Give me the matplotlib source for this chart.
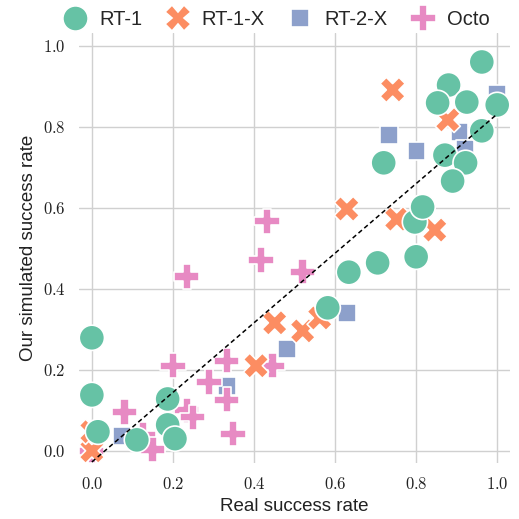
import numpy as np
import pandas as pd
import matplotlib
matplotlib.use("Agg")
import matplotlib.pyplot as plt
import seaborn as sns
from matplotlib.ticker import FuncFormatter

# values (real, simulated)
rt1_real = [0.0, 0.0, 0.015, 0.111, 0.187, 0.187, 0.205, 0.582, 0.634, 0.705, 0.72, 0.80,
            0.797, 0.816, 0.871, 0.922, 0.89, 0.962, 0.88, 0.853, 0.925, 1.0, 0.962]
rt1_sim = [0.279, 0.138, 0.047, 0.027, 0.128, 0.064, 0.03, 0.353, 0.441, 0.464, 0.711, 0.479,
           0.565, 0.602, 0.73, 0.711, 0.666, 0.96, 0.903, 0.859, 0.861, 0.854, 0.79]
rt1x_real = [0.0, 0.0, 0.405, 0.451, 0.52, 0.562, 0.629, 0.752, 0.742, 0.878, 0.846]
rt1x_sim = [0.0, 0.047, 0.21, 0.316, 0.296, 0.328, 0.597, 0.572, 0.891, 0.817, 0.545]
rt2x_real = [0.074, 0.333, 0.481, 0.629, 0.733, 0.801, 0.907, 0.92, 1.0]
rt2x_sim = [0.037, 0.16, 0.252, 0.34, 0.78, 0.74, 0.787, 0.745, 0.88]
octo_real = [0.0, 0.081, 0.126, 0.15, 0.2, 0.234, 0.249, 0.234, 0.289, 0.333, 0.333, 0.348,
             0.417, 0.432, 0.446, 0.52]
octo_sim = [0.0, 0.096, 0.039, 0.003, 0.21, 0.1, 0.083, 0.43, 0.17, 0.222, 0.126, 0.042,
            0.471, 0.567, 0.21, 0.442]

policies = ["RT-1", "RT-1-X", "RT-2-X", "Octo"]
ticks = [0.0, 0.2, 0.4, 0.6, 0.8, 1.0]

frames = {
    "RT-1": (rt1_real, rt1_sim),
    "RT-1-X": (rt1x_real, rt1x_sim),
    "RT-2-X": (rt2x_real, rt2x_sim),
    "Octo": (octo_real, octo_sim),
}
rows = []
for name, (xs, ys) in frames.items():
    for x, y in zip(xs, ys):
        rows.append({"real": x, "sim": y, "policy": name})
df = pd.DataFrame(rows)
# draw order roughly as in the reference
draw_order = ["RT-2-X", "Octo", "RT-1-X", "RT-1"]
df["rank"] = df["policy"].map({p: i for i, p in enumerate(draw_order)})
df = df.sort_values("rank", kind="stable")

sns.set_theme(style="whitegrid", palette="Set2")
plt.rcParams["font.family"] = ["Liberation Sans", "DejaVu Sans"]
plt.rcParams["mathtext.fontset"] = "cm"

fig = plt.figure(figsize=(5.19, 5.19), dpi=100)
ax = fig.add_axes([0.152, 0.108, 0.831, 0.828])

sns.scatterplot(data=df, x="real", y="sim", hue="policy", style="policy",
                hue_order=policies, style_order=policies, s=330, ax=ax,
                edgecolor="white", linewidth=1.2)

# linear fit of all points, drawn over [0, 1]
slope, intercept = np.polyfit(df["real"], df["sim"], 1)
xs = np.array([0.0, 1.0])
ax.plot(xs, intercept + slope * xs, color="black", linestyle=(0, (3, 2)), linewidth=1.1, zorder=5)

ax.set_xlim(-0.032, 1.032)
ax.set_ylim(-0.03, 1.031)
ax.set_xticks(ticks)
ax.set_yticks(ticks)
fmt = FuncFormatter(lambda v, p: r"$%.1f$" % v)
ax.xaxis.set_major_formatter(fmt)
ax.yaxis.set_major_formatter(fmt)
ax.tick_params(labelsize=12, colors="#222222")
for s in ax.spines.values():
    s.set_visible(False)
ax.grid(color="#d0d0d0", linewidth=1.0)

ax.set_xlabel("Real success rate", fontsize=13.5, color="#222222")
ax.set_ylabel("Our simulated success rate", fontsize=13.5, color="#222222")

handles, labels = ax.get_legend_handles_labels()
leg = ax.legend(handles, labels, loc="lower center", bbox_to_anchor=(0.46, 0.992), ncol=4,
                frameon=False, fontsize=14.5, handlelength=1.0, handletextpad=0.7,
                columnspacing=1.25, markerscale=1.0, borderaxespad=0)

fig.savefig("out.png", dpi=100)
